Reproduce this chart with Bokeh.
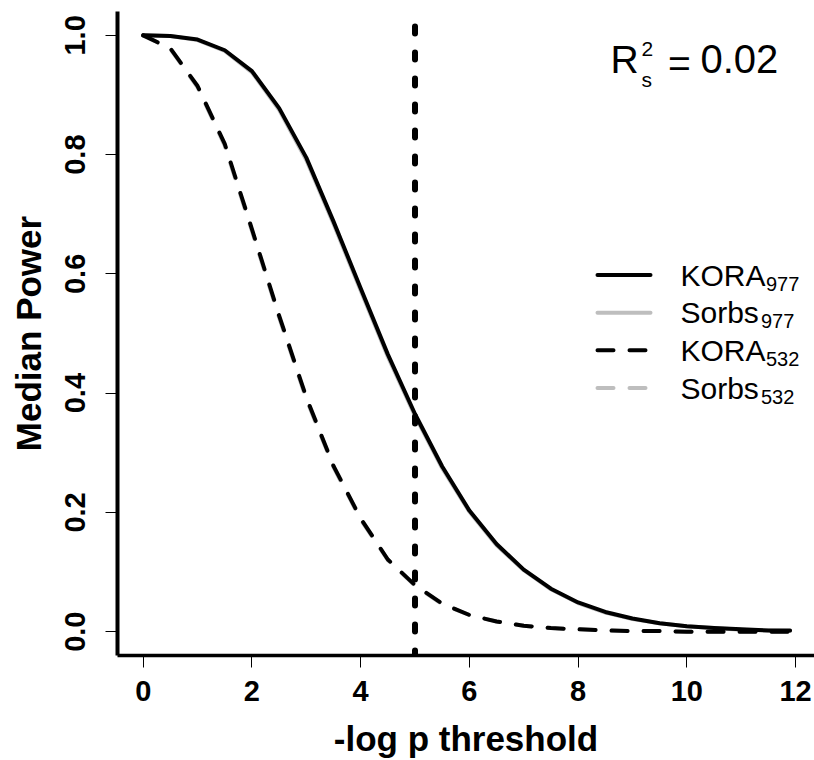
from bokeh.plotting import figure
from bokeh.models import Span, Label, Range1d, FixedTicker, PrintfTickFormatter
from bokeh.embed import file_html
from bokeh.resources import INLINE

# ---------------- data ----------------
threshold = [0.0, 0.5, 1.0, 1.5, 2.0, 2.5, 3.0, 3.5, 4.0, 4.5, 5.0, 5.5, 6.0,
             6.5, 7.0, 7.5, 8.0, 8.5, 9.0, 9.5, 10.0, 10.5, 11.0, 11.5, 11.9]
kora_977 = [1.000, 0.999, 0.993, 0.975, 0.940, 0.878, 0.795, 0.688, 0.576, 0.465,
            0.365, 0.277, 0.203, 0.147, 0.104, 0.072, 0.049, 0.033, 0.022, 0.014,
            0.009, 0.006, 0.004, 0.002, 0.002]
sorbs_977 = [1.000, 0.999, 0.992, 0.974, 0.938, 0.875, 0.791, 0.684, 0.572, 0.461,
             0.362, 0.274, 0.201, 0.145, 0.103, 0.071, 0.048, 0.032, 0.021, 0.014,
             0.009, 0.006, 0.003, 0.002, 0.001]
kora_532 = [1.000, 0.978, 0.915, 0.818, 0.675, 0.530, 0.393, 0.278, 0.190, 0.121,
            0.078, 0.047, 0.028, 0.017, 0.010, 0.006, 0.004, 0.002, 0.001, 0.001,
            0.000, 0.000, 0.000, 0.000, 0.000]
sorbs_532 = [1.000, 0.977, 0.913, 0.815, 0.672, 0.527, 0.390, 0.276, 0.188, 0.120,
             0.077, 0.046, 0.028, 0.017, 0.010, 0.006, 0.004, 0.002, 0.001, 0.001,
             0.000, 0.000, 0.000, 0.000, 0.000]
x_ticks = [0, 2, 4, 6, 8, 10, 12]
y_ticks = [0.0, 0.2, 0.4, 0.6, 0.8, 1.0]
p_threshold = 5
r2_value = "0.02"
legend_names = ["KORA", "Sorbs", "KORA", "Sorbs"]
legend_subs = ["977", "977", "532", "532"]

# ---------------- layout ----------------
W, H = 814, 760
F_LEFT, F_TOP, F_BOTTOM, F_RIGHT = 117, 11, 656, 814
XS, XE = -0.473, 12.349
YS, YE = -0.04, 1.04
FONT = "Liberation Sans"
GREY = "#BEBEBE"


def dx(px):
    return XS + (px - F_LEFT) / (F_RIGHT - F_LEFT) * (XE - XS)


def dy(py):
    return YE - (py - F_TOP) / (F_BOTTOM - F_TOP) * (YE - YS)


p = figure(width=W, height=H, x_range=Range1d(XS, XE), y_range=Range1d(YS, YE),
           output_backend="svg", toolbar_location=None,
           min_border_left=F_LEFT, min_border_right=0,
           min_border_top=F_TOP, min_border_bottom=H - F_BOTTOM,
           x_axis_label="-log p threshold", y_axis_label="Median Power")
p.outline_line_color = None
p.grid.visible = False
p.background_fill_color = "white"
p.border_fill_color = "white"

for ax in (p.xaxis[0], p.yaxis[0]):
    ax.axis_line_color = "black"
    ax.major_tick_line_color = "black"
    ax.major_tick_line_width = 1
    ax.major_tick_out = 12
    ax.major_tick_in = 0
    ax.minor_tick_line_color = None
    ax.major_label_text_font = FONT
    ax.major_label_text_font_style = "bold"
    ax.major_label_text_font_size = "29px"
    ax.major_label_text_color = "black"
    ax.axis_label_text_font = FONT
    ax.axis_label_text_font_style = "bold"
    ax.axis_label_text_font_size = "35px"
    ax.axis_label_text_color = "black"

p.xaxis.axis_line_width = 3.5
p.yaxis.axis_line_width = 4
p.xaxis.ticker = FixedTicker(ticks=x_ticks)
p.yaxis.ticker = FixedTicker(ticks=y_ticks)
p.yaxis.formatter = PrintfTickFormatter(format="%.1f")
p.yaxis.major_label_orientation = "vertical"
p.xaxis.major_label_standoff = 13
p.yaxis.major_label_standoff = 20
p.xaxis.axis_label_standoff = 15
p.yaxis.axis_label_standoff = 15

# ---------------- curves ----------------
common = dict(line_width=4, line_cap="round", line_join="round")
p.line(threshold, sorbs_977, line_color=GREY, **common)
p.line(threshold, sorbs_532, line_color=GREY, line_dash="16 16", **common)
p.line(threshold, kora_977, line_color="black", **common)
p.line(threshold, kora_532, line_color="black", line_dash="16 16", **common)

p.add_layout(Span(location=p_threshold, dimension="height", line_color="black",
                  line_width=6, line_dash="7 19", line_dash_offset=11,
                  line_cap="round"))


# ---------------- text helper (baseline given in screen px) ----------------
def text(x_px, base_px, txt, size, align="left"):
    p.add_layout(Label(x=dx(x_px), y=dy(base_px - 0.4 * size), text=txt,
                       text_font=FONT, text_font_size=f"{size}px",
                       text_color="black", text_baseline="alphabetic",
                       text_align=align))


# ---------------- legend (manual, to allow subscripts) ----------------
row_py = [275, 312.7, 350.4, 388.1]
styles = [("black", "solid"), (GREY, "solid"), ("black", "16 16"), (GREY, "16 16")]
sub_px = [765.5, 760.5, 765.5, 760.5]
for i in range(4):
    col, dash = styles[i]
    p.line([dx(597), dx(650)], [dy(row_py[i]), dy(row_py[i])], line_color=col,
           line_width=4, line_cap="round", line_dash=dash)
    text(680, row_py[i] + 12, legend_names[i], 30)
    text(sub_px[i], row_py[i] + 16.7, legend_subs[i], 20)

# ---------------- R^2 annotation ----------------
text(610, 75, "R", 39)
text(641, 57, "2", 21)
text(641, 88, "s", 21)
text(679, 79, "=", 39, align="center")
text(700, 75, r2_value, 40)

open("out.html", "w").write(file_html(p, INLINE))
